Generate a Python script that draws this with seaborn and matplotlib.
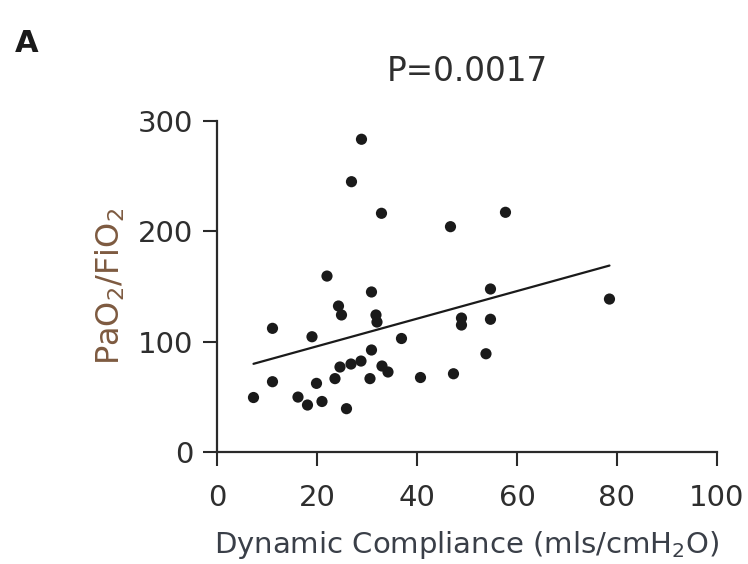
import matplotlib
matplotlib.use("Agg")
import matplotlib.pyplot as plt
import seaborn as sns
import pandas as pd

compliance = [28.9, 26.9, 32.9, 46.7, 57.7, 22.0, 30.9, 54.7, 11.1, 24.3, 24.9, 31.8, 32.0,
              19.0, 36.9, 48.9, 48.9, 54.7, 53.8, 78.5, 30.9, 24.6, 26.8, 28.8, 33.0, 34.2,
              23.6, 30.6, 40.7, 47.3, 11.1, 19.9, 7.3, 16.2, 18.1, 21.0, 25.9]
pf_ratio = [283.3, 244.9, 216.3, 204.2, 217.2, 159.5, 145.1, 147.8, 112.2, 132.4, 124.3, 124.3,
            117.9, 104.6, 103.0, 121.5, 115.2, 120.4, 89.2, 138.7, 92.6, 77.2, 79.9, 82.6,
            78.1, 72.7, 66.7, 66.7, 67.7, 71.1, 63.9, 62.4, 49.6, 50.0, 42.8, 46.0, 39.5]
x_ticks = [0, 20, 40, 60, 80, 100]
y_ticks = [0, 100, 200, 300]
title_text = "P=0.0017"
panel_label = "A"

sns.set_theme(style="white")
plt.rcParams['font.family'] = ['DejaVu Sans']
plt.rcParams['mathtext.fontset'] = 'dejavusans'

df = pd.DataFrame({"compliance": compliance, "pf": pf_ratio})

fig = plt.figure(figsize=(7.48, 5.64), dpi=100)
ax = fig.add_axes([0.2901, 0.198, 0.6684, 0.5878])

sns.regplot(data=df, x="compliance", y="pf", ax=ax, ci=None,
            scatter_kws=dict(s=65, color="#1a1a1a", edgecolor="none", alpha=1, clip_on=False),
            line_kws=dict(color="#1a1a1a", lw=1.6))

ax.set_xlim(0, 100)
ax.set_ylim(0, 300)
ax.set_xticks(x_ticks)
ax.set_yticks(y_ticks)
for s in ["top", "right"]:
    ax.spines[s].set_visible(False)
for s in ["left", "bottom"]:
    ax.spines[s].set_color("#2a2a2a")
    ax.spines[s].set_linewidth(1.6)

txtc = "#2e2e2e"
ax.tick_params(axis="both", which="major", direction="out", length=10, width=1.5,
               color="#2a2a2a", labelsize=21, labelcolor=txtc)
ax.tick_params(axis="x", pad=13, bottom=True)
ax.tick_params(axis="y", pad=7, left=True)

ax.set_xlabel("Dynamic Compliance (mls/cmH$_2$O)", fontsize=21, color="#3a3f48", labelpad=12)
ax.set_ylabel("PaO$_2$/FiO$_2$", fontsize=23, color="#7d5a40", labelpad=8)
ax.set_title(title_text, fontsize=23.5, color=txtc, pad=29)

fig.text(0.02, 0.908, panel_label, fontsize=22, fontweight="bold", color="#1a1a1a")

fig.savefig("out.png", dpi=100)
